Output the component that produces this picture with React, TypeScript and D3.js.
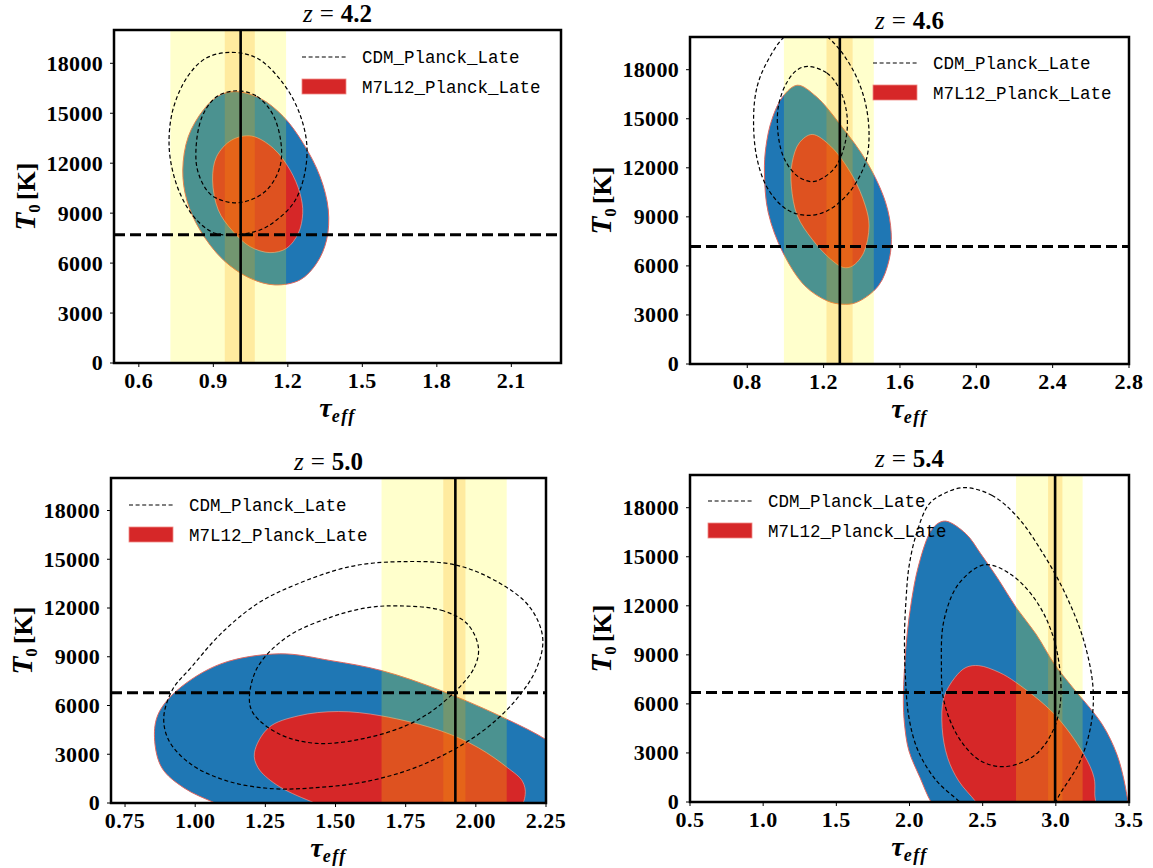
import React from "react";
import * as d3 from "d3";

type Pt = [number, number];

// ---- data ----
const redshifts = ["4.2", "4.6", "5.0", "5.4"];
const tauDomains: Pt[] = [[0.5, 2.3], [0.5, 2.8], [0.7, 2.25], [0.5, 3.5]];
const tauTicks = [
  [0.6, 0.9, 1.2, 1.5, 1.8, 2.1],
  [0.8, 1.2, 1.6, 2.0, 2.4, 2.8],
  [0.75, 1.0, 1.25, 1.5, 1.75, 2.0, 2.25],
  [0.5, 1.0, 1.5, 2.0, 2.5, 3.0, 3.5],
];
const tauTickDigits = [1, 1, 2, 1];
const t0Domain: Pt = [0, 20000];
const t0Ticks = [0, 3000, 6000, 9000, 12000, 15000, 18000];

// observed values (vertical line = tau_eff, dashed line = T0) and tau bands
const obsTau = [1.01, 1.285, 1.927, 2.995];
const obsT0 = [7700, 7180, 6780, 6700];
const bandWide: Pt[] = [[0.727, 1.193], [0.992, 1.463], [1.664, 2.11], [2.728, 3.183]];
const bandNarrow: Pt[] = [[0.946, 1.067], [1.215, 1.352], [1.884, 1.963], [2.947, 3.045]];

// M7L12_Planck_Late filled contours (outer = blue, inner = red)
const m7Outer42: Pt[] = [[0.987, 16300], [1.088, 15900], [1.182, 14800], [1.262, 13190], [1.33, 11190], [1.363, 9190], [1.356, 7390], [1.316, 5990], [1.249, 4990], [1.148, 4690], [1.048, 5090], [0.94, 6190], [0.846, 7990], [0.793, 9790], [0.777, 11590], [0.799, 13590], [0.86, 15200], [0.92, 16040]];
const m7Inner42: Pt[] = [[1.054, 13630], [1.142, 12890], [1.209, 11590], [1.249, 10190], [1.26, 8990], [1.242, 7790], [1.195, 6890], [1.128, 6630], [1.048, 6990], [0.974, 7990], [0.92, 9190], [0.897, 10990], [0.913, 12390], [0.974, 13390]];
const m7Outer46: Pt[] = [[1.063, 17050], [1.16, 16370], [1.294, 14540], [1.429, 12310], [1.525, 9870], [1.554, 8030], [1.544, 6410], [1.487, 4780], [1.371, 3760], [1.294, 3660], [1.217, 3870], [1.102, 4780], [0.987, 6810], [0.91, 9260], [0.89, 11700], [0.898, 13300], [0.929, 14950], [0.987, 16370]];
const m7Inner46: Pt[] = [[1.14, 14040], [1.237, 13320], [1.352, 11490], [1.419, 9660], [1.438, 8440], [1.41, 6810], [1.352, 6000], [1.304, 5900], [1.237, 6410], [1.14, 7630], [1.063, 9050], [1.031, 10880], [1.035, 12310], [1.073, 13530]];
const m7Outer50: Pt[] = [[1.301, 9180], [1.484, 8760], [1.664, 8150], [1.877, 6910], [2.11, 5160], [2.254, 3860], [2.35, 2600], [2.4, 500], [2.3, -2000], [1.6, -2500], [1.2, -900], [1.071, 0], [0.96, 930], [0.881, 2170], [0.855, 4020], [0.868, 5460], [0.934, 6910], [1.091, 8560]];
const m7Inner50: Pt[] = [[1.51, 5630], [1.664, 5360], [1.877, 4430], [2.009, 3400], [2.113, 2170], [2.166, 1340], [2.176, 515], [2.15, -400], [1.9, -1000], [1.55, -700], [1.412, 100], [1.289, 1130], [1.224, 2170], [1.211, 3090], [1.262, 4640], [1.367, 5360]];
const m7Outer54: Pt[] = [[2.248, 17180], [2.386, 16400], [2.487, 15180], [2.612, 13550], [2.728, 11910], [2.864, 10280], [2.99, 8440], [3.115, 7010], [3.316, 4760], [3.417, 2920], [3.467, 1290], [3.493, 60], [3.52, -900], [2.9, -2000], [2.22, -900], [2.147, 0], [2.072, 1490], [1.996, 3130], [1.966, 4760], [1.958, 6190], [1.966, 8230], [1.984, 10280], [2.014, 12320], [2.059, 14360], [2.135, 16400], [2.185, 16980]];
const m7Inner54: Pt[] = [[2.474, 8340], [2.612, 7930], [2.728, 7310], [2.99, 5370], [3.191, 2920], [3.261, 1490], [3.266, 500], [3.26, -500], [2.85, -1500], [2.5, -600], [2.449, 60], [2.336, 1290], [2.26, 2720], [2.223, 4560], [2.235, 6390], [2.311, 7620], [2.386, 8230]];

// CDM_Planck_Late dashed contours
const cdmOuter42: Pt[] = [[0.966, 18660], [1.077, 18300], [1.181, 16800], [1.247, 15000], [1.277, 13000], [1.262, 10990], [1.222, 9590], [1.155, 8590], [1.088, 7990], [0.98, 7690], [0.907, 7790], [0.846, 8390], [0.793, 9390], [0.746, 10990], [0.722, 13000], [0.737, 15200], [0.796, 17200], [0.87, 18300]];
const cdmInner42: Pt[] = [[0.996, 16350], [1.077, 16000], [1.144, 14800], [1.175, 12700], [1.159, 11390], [1.1, 10190], [0.995, 9620], [0.892, 10090], [0.84, 11390], [0.83, 12790], [0.855, 14800], [0.914, 16000]];
const cdmOuter46: Pt[] = [[0.833, 14950], [0.852, 16980], [0.91, 18610], [0.996, 20030], [1.102, 20650], [1.217, 20030], [1.333, 18410], [1.41, 16370], [1.438, 14140], [1.419, 12310], [1.333, 10480], [1.217, 9360], [1.112, 9090], [1.006, 9460], [0.91, 10680], [0.852, 12510]];
const cdmInner46: Pt[] = [[1.117, 18200], [1.217, 17800], [1.285, 16780], [1.323, 15150], [1.313, 13530], [1.265, 12100], [1.198, 11390], [1.14, 11150], [1.063, 11490], [0.996, 12510], [0.963, 13930], [0.963, 15760], [1.006, 17190], [1.063, 18000]];
const cdmOuter50: Pt[] = [[1.727, 14850], [1.93, 14640], [2.087, 13510], [2.192, 12060], [2.238, 10210], [2.218, 8350], [2.14, 6290], [2.009, 4230], [1.812, 2370], [1.615, 1340], [1.419, 930], [1.268, 890], [1.117, 1340], [0.986, 2370], [0.907, 3820], [0.888, 5260], [0.92, 7000], [0.986, 8350], [1.091, 10410], [1.222, 12270], [1.353, 13400], [1.55, 14540]];
const cdmInner50: Pt[] = [[1.727, 12130], [1.877, 11860], [1.969, 11030], [2.009, 9590], [1.995, 8350], [1.917, 6700], [1.786, 5050], [1.615, 4020], [1.432, 3670], [1.301, 4230], [1.209, 5460], [1.193, 6390], [1.222, 8350], [1.327, 10210], [1.484, 11440], [1.615, 12020]];
const cdmOuter54: Pt[] = [[2.373, 19230], [2.562, 18760], [2.738, 17430], [2.914, 15180], [3.065, 12730], [3.191, 9870], [3.254, 7010], [3.241, 4760], [3.166, 2510], [3.04, 670], [2.95, -500], [2.65, -1300], [2.42, -700], [2.336, 60], [2.185, 1290], [2.059, 3130], [1.996, 5170], [1.971, 7830], [1.966, 10280], [1.976, 12320], [1.996, 14360], [2.047, 16400], [2.135, 18240], [2.235, 18860]];
const cdmInner54: Pt[] = [[2.512, 14510], [2.688, 13950], [2.864, 12320], [2.99, 9870], [3.035, 6600], [2.99, 4560], [2.864, 2920], [2.663, 2170], [2.487, 2510], [2.336, 3940], [2.235, 6190], [2.218, 8440], [2.235, 11090], [2.336, 13340]];

const m7Outer = [m7Outer42, m7Outer46, m7Outer50, m7Outer54];
const m7Inner = [m7Inner42, m7Inner46, m7Inner50, m7Inner54];
const cdmOuter = [cdmOuter42, cdmOuter46, cdmOuter50, cdmOuter54];
const cdmInner = [cdmInner42, cdmInner46, cdmInner50, cdmInner54];

const legendLabels = ["CDM_Planck_Late", "M7L12_Planck_Late"];

// ---- layout ----
const W = 1153;
const H = 868;
const boxes = [
  { x0: 114, x1: 561, y0: 30, y1: 363 },
  { x0: 690, x1: 1129, y0: 37, y1: 364 },
  { x0: 111, x1: 546, y0: 478, y1: 803 },
  { x0: 690, x1: 1129, y0: 475, y1: 802 },
];
const legendAt = [
  { x: 302, y: 57 },
  { x: 873, y: 63 },
  { x: 129, y: 505 },
  { x: 708, y: 501 },
];

const BLUE = "#1f77b4";
const RED = "#d62728";
const serif = "'Liberation Serif', 'Times New Roman', serif";
const mono = "'Liberation Mono', 'DejaVu Sans Mono', monospace";

const Panel = ({ i }: { i: number }) => {
  const b = boxes[i];
  const x = d3.scaleLinear().domain(tauDomains[i]).range([b.x0, b.x1]);
  const y = d3.scaleLinear().domain(t0Domain).range([b.y1, b.y0]);
  const line = d3
    .line<Pt>()
    .x((d) => x(d[0]))
    .y((d) => y(d[1]))
    .curve(d3.curveCatmullRomClosed.alpha(0.5));
  const fmt = d3.format("." + tauTickDigits[i] + "f");
  const cx = (b.x0 + b.x1) / 2;
  const cy = (b.y0 + b.y1) / 2;
  const clipId = "clip-" + i;
  const lg = legendAt[i];

  return (
    <g>
      <defs>
        <clipPath id={clipId}>
          <rect x={b.x0} y={b.y0} width={b.x1 - b.x0} height={b.y1 - b.y0} />
        </clipPath>
      </defs>
      <g clipPath={`url(#${clipId})`}>
        <path d={line(m7Outer[i]) || ""} fill={BLUE} stroke="#e06660" strokeWidth={1} />
        <path d={line(m7Inner[i]) || ""} fill={RED} stroke="#f3a99a" strokeWidth={0.6} />
        <rect
          x={x(bandWide[i][0])}
          y={b.y0}
          width={x(bandWide[i][1]) - x(bandWide[i][0])}
          height={b.y1 - b.y0}
          fill="rgb(255,255,0)"
          fillOpacity={0.2}
        />
        <rect
          x={x(bandNarrow[i][0])}
          y={b.y0}
          width={x(bandNarrow[i][1]) - x(bandNarrow[i][0])}
          height={b.y1 - b.y0}
          fill="rgb(255,165,0)"
          fillOpacity={0.22}
        />
        <path d={line(cdmOuter[i]) || ""} fill="none" stroke="#000" strokeWidth={1.2} strokeDasharray="4,2.6" />
        <path d={line(cdmInner[i]) || ""} fill="none" stroke="#000" strokeWidth={1.2} strokeDasharray="4,2.6" />
        <line x1={b.x0} x2={b.x1} y1={y(obsT0[i])} y2={y(obsT0[i])} stroke="#000" strokeWidth={3} strokeDasharray="11,5" />
        <line x1={x(obsTau[i])} x2={x(obsTau[i])} y1={b.y0} y2={b.y1} stroke="#000" strokeWidth={2.6} />
      </g>

      {/* legend */}
      <line x1={lg.x} x2={lg.x + 44} y1={lg.y} y2={lg.y} stroke="#000" strokeWidth={1.2} strokeDasharray="4,2.6" />
      <text x={lg.x + 60} y={lg.y} dy="0.36em" fontFamily={mono} fontSize={17.5} fill="#000">
        {legendLabels[0]}
      </text>
      <rect x={lg.x} y={lg.y + 22} width={44} height={15} fill={RED} stroke="#f08a84" strokeWidth={0.8} />
      <text x={lg.x + 60} y={lg.y + 30} dy="0.36em" fontFamily={mono} fontSize={17.5} fill="#000">
        {legendLabels[1]}
      </text>

      {/* frame */}
      <rect x={b.x0} y={b.y0} width={b.x1 - b.x0} height={b.y1 - b.y0} fill="none" stroke="#000" strokeWidth={2.5} />

      {/* x axis */}
      {tauTicks[i].map((t) => (
        <g key={"x" + t}>
          <line x1={x(t)} x2={x(t)} y1={b.y1} y2={b.y1 + 4} stroke="#000" strokeWidth={1} />
          <text x={x(t)} y={b.y1 + 25} textAnchor="middle" fontFamily={serif} fontWeight="bold" fontSize={22} letterSpacing={0.5}>
            {fmt(t)}
          </text>
        </g>
      ))}
      {/* y axis */}
      {t0Ticks.map((t) => (
        <g key={"y" + t}>
          <line x1={b.x0 - 4} x2={b.x0} y1={y(t)} y2={y(t)} stroke="#000" strokeWidth={1} />
          <text x={b.x0 - 11} y={y(t)} dy="0.34em" textAnchor="end" fontFamily={serif} fontWeight="bold" fontSize={22} letterSpacing={0.3}>
            {t}
          </text>
        </g>
      ))}

      {/* title */}
      <text x={cx} y={b.y0 - 8} textAnchor="middle" fontFamily={serif} fontSize={25}>
        <tspan fontStyle="italic">z</tspan>
        <tspan dx={7}>=</tspan>
        <tspan dx={7} fontWeight="bold">{redshifts[i]}</tspan>
      </text>

      {/* x label */}
      <text x={cx} y={b.y1 + 54} textAnchor="middle" fontFamily={serif} fontWeight="bold" fontStyle="italic">
        <tspan fontSize={28}>τ</tspan>
        <tspan fontSize={18} dy={5} letterSpacing={1.5}>eff</tspan>
      </text>

      {/* y label */}
      <text
        transform={`translate(${b.x0 - 79},${cy}) rotate(-90)`}
        textAnchor="middle"
        fontFamily={serif}
        fontWeight="bold"
      >
        <tspan fontSize={29} fontStyle="italic">T</tspan>
        <tspan fontSize={17} dy={5}>0</tspan>
        <tspan fontSize={26} dy={-5} dx={4}>[K]</tspan>
      </text>
    </g>
  );
};

export default function App() {
  return (
    <svg
      width={W}
      height={H}
      viewBox={`0 0 ${W} ${H}`}
      style={{ position: "absolute", left: 0, top: 0, background: "#fff" }}
    >
      <rect x={0} y={0} width={W} height={H} fill="#fff" />
      {redshifts.map((_, i) => (
        <Panel key={i} i={i} />
      ))}
    </svg>
  );
}
